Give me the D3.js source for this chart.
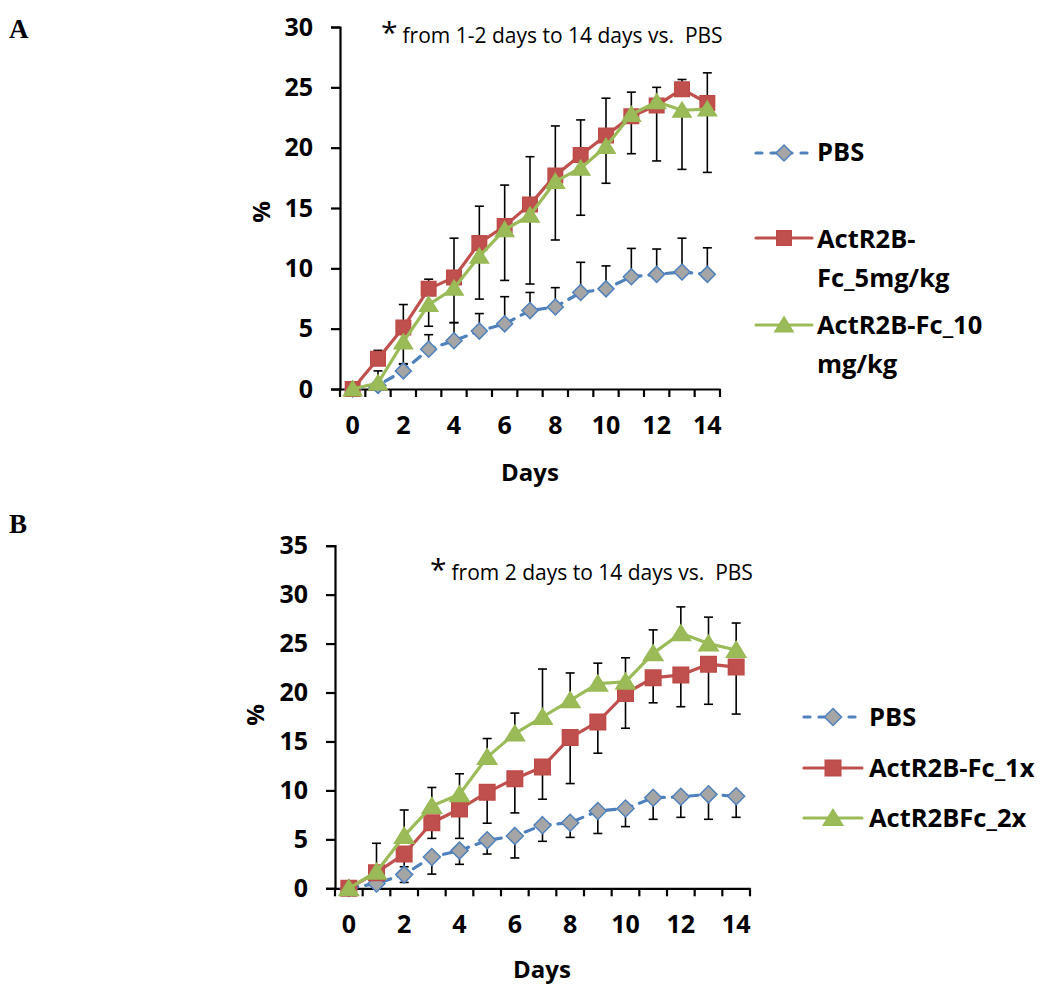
<!DOCTYPE html>
<html>
<head>
<meta charset="utf-8">
<script src="https://cdnjs.cloudflare.com/ajax/libs/d3/7.8.5/d3.min.js"></script>
<style>
  html, body { margin: 0; padding: 0; background: #ffffff; }
  svg { display: block; }
  .tick text { font-family: "Open Sans", sans-serif; font-weight: 700; }
</style>
</head>
<body>
<svg id="chart" width="1052" height="987"></svg>
<script>
// ---------------- DATA ----------------
const days = [0, 1, 2, 3, 4, 5, 6, 7, 8, 9, 10, 11, 12, 13, 14];
const xTickLabels = [0, 2, 4, 6, 8, 10, 12, 14];
const yTicksA = [0, 5, 10, 15, 20, 25, 30];
const yTicksB = [0, 5, 10, 15, 20, 25, 30, 35];

// Panel A
const seriesNamesA = ["PBS", "ActR2B-Fc_5mg/kg", "ActR2B-Fc_10 mg/kg"];
const pbsA      = [0, 0.3, 1.5, 3.3, 4.0, 4.8, 5.4, 6.5, 6.8, 8.0, 8.3, 9.3, 9.5, 9.7, 9.5];
const pbsAErr   = [0, 1.2, 0.6, 1.2, 1.5, 1.45, 2.25, 1.5, 1.6, 2.5, 1.9, 2.35, 2.1, 2.8, 2.2];
const fc5A      = [0, 2.5, 5.1, 8.3, 9.25, 12.1, 13.5, 15.3, 17.7, 19.4, 21.0, 22.6, 23.5, 24.85, 23.7];
const fc5AErr   = [0, 0.7, 1.9, 0.8, 3.25, 3.05, 3.4, 3.95, 4.1, 2.9, 3.1, 2.0, 1.5, 0.8, 2.5];
const fc10A     = [0, 0.5, 3.9, 7.0, 8.35, 11.0, 13.2, 14.4, 17.2, 18.3, 20.1, 22.75, 23.8, 23.1, 23.2];
const fc10AErr  = [0, 0.4, 1.85, 1.8, 2.85, 3.55, 4.2, 5.7, 4.85, 3.9, 3.05, 3.25, 4.9, 4.9, 5.25];
const noteA = "from 1-2 days to 14 days vs.\u00a0 PBS";

// Panel B
const seriesNamesB = ["PBS", "ActR2B-Fc_1x", "ActR2BFc_2x"];
const pbsB      = [0, 0.5, 1.4, 3.2, 3.85, 4.9, 5.35, 6.45, 6.7, 7.9, 8.15, 9.25, 9.35, 9.6, 9.4];
const pbsBErr   = [0, 0.3, 0.8, 1.75, 1.4, 1.4, 2.25, 1.65, 1.5, 2.3, 1.85, 2.2, 2.1, 2.55, 2.15];
const fc1xB     = [0, 1.6, 3.5, 6.7, 8.1, 9.8, 11.2, 12.4, 15.4, 17.0, 19.9, 21.5, 21.8, 22.9, 22.6];
const fc1xBErr  = [0, 0.3, 1.3, 1.6, 3.0, 3.15, 3.5, 3.3, 4.7, 3.2, 3.55, 2.55, 3.25, 4.1, 4.8];
const fc2xB     = [0, 1.7, 5.35, 8.4, 9.6, 13.4, 15.8, 17.5, 19.2, 20.9, 21.1, 24.0, 26.05, 25.0, 24.35];
const fc2xBErr  = [0, 2.9, 2.65, 1.9, 2.1, 1.9, 2.1, 4.9, 2.8, 2.1, 2.45, 2.4, 2.7, 2.7, 2.75];
const noteB = "from 2 days to 14 days vs.\u00a0 PBS";

// ---------------- STYLE ----------------
const BOLD = "'Open Sans', sans-serif";
const styles = [
  { line: "#4F81BD", dash: "9,8", marker: "diamond", fill: "#A5A5A5", stroke: "#4F81BD" },
  { line: "#C0504D", dash: null,  marker: "square",  fill: "#C0504D", stroke: "#BE4B48" },
  { line: "#9BBB59", dash: null,  marker: "triangle",fill: "#9BBB59", stroke: "#98B954" }
];

function markerPath(type, s) {
  if (type === "diamond") {
    const h = s / 2;
    return `M0,${-h}L${h},0L0,${h}L${-h},0Z`;
  }
  if (type === "square") {
    const h = (s - 1.5) / 2;
    return `M${-h},${-h}H${h}V${h}H${-h}Z`;
  }
  const b = s * 0.57, t = s * 0.5;
  return `M0,${-t}L${b},${t * 0.85}L${-b},${t * 0.85}Z`;
}

const svg = d3.select("#chart");

function drawPanel(cfg) {
  const g = svg.append("g");
  const x = d3.scaleBand().domain(days).range([cfg.x0, cfg.x1]).padding(0);
  const y = d3.scaleLinear().domain([0, cfg.yMax]).range([cfg.yBottom, cfg.yTop]);
  const cx = d => x(d) + x.bandwidth() / 2;

  // error bars
  cfg.series.forEach(s => {
    s.values.forEach((v, i) => {
      const e = s.err[i];
      if (!e) return;
      const end = v + s.dir * e;
      const px = cx(days[i]);
      g.append("line").attr("x1", px).attr("x2", px)
        .attr("y1", y(v)).attr("y2", y(end))
        .attr("stroke", "#000").attr("stroke-width", 1.6);
      g.append("line").attr("x1", px - 4.5).attr("x2", px + 4.5)
        .attr("y1", y(end)).attr("y2", y(end))
        .attr("stroke", "#000").attr("stroke-width", 1.6);
    });
  });

  // axes
  const yAxis = d3.axisLeft(y).tickValues(cfg.yTicks).tickSize(9).tickPadding(18);
  const ya = g.append("g").attr("transform", `translate(${cfg.x0},0)`).call(yAxis);
  ya.select(".domain").attr("stroke", "#000").attr("stroke-width", 2.2);
  ya.selectAll(".tick line").attr("stroke", "#000").attr("stroke-width", 2.2);
  ya.selectAll(".tick text").attr("font-size", 25).attr("fill", "#000");

  const xAxis = d3.axisBottom(x).tickValues(xTickLabels).tickSize(0).tickPadding(27);
  const xa = g.append("g").attr("transform", `translate(0,${cfg.yBottom})`).call(xAxis);
  xa.select(".domain").attr("stroke", "#000").attr("stroke-width", 2.2);
  xa.selectAll(".tick text").attr("font-size", 25).attr("fill", "#000");
  const bounds = days.map(d => x(d)).concat([cfg.x1]);
  g.append("g").selectAll("line").data(bounds).join("line")
    .attr("x1", d => d).attr("x2", d => d)
    .attr("y1", cfg.yBottom).attr("y2", cfg.yBottom + 8)
    .attr("stroke", "#000").attr("stroke-width", 2.2);

  // lines and markers
  cfg.series.forEach((s, k) => {
    const st = styles[k];
    const line = d3.line().x((v, i) => cx(days[i])).y(v => y(v));
    const p = g.append("path").datum(s.values).attr("d", line)
      .attr("fill", "none").attr("stroke", st.line).attr("stroke-width", 3.2)
      .attr("stroke-linejoin", "round").attr("stroke-linecap", "round");
    if (st.dash) p.attr("stroke-dasharray", st.dash);
    g.append("g").selectAll("path").data(s.values).join("path")
      .attr("d", markerPath(st.marker, cfg.markerSize))
      .attr("transform", (v, i) => `translate(${cx(days[i])},${y(v)})`)
      .attr("fill", st.fill).attr("stroke", st.stroke).attr("stroke-width", 1.5);
  });

  // axis titles
  g.append("text").attr("x", cfg.daysX).attr("y", cfg.daysY)
    .attr("text-anchor", "middle").attr("font-family", BOLD).attr("font-weight", 700)
    .attr("font-size", 24).text("Days");
  g.append("text").attr("transform", `translate(${cfg.pctX},${cfg.pctY}) rotate(-90)`)
    .attr("text-anchor", "middle").attr("dominant-baseline", "central")
    .attr("font-family", BOLD).attr("font-weight", 700).attr("font-size", 24).text("%");

  // annotation
  const t = g.append("text").attr("x", cfg.noteX).attr("y", cfg.noteY)
    .attr("font-family", "'Open Sans', sans-serif").attr("fill", "#000");
  t.append("tspan").attr("font-size", 30).text("*");
  t.append("tspan").attr("font-size", 21).attr("dx", 5).text(cfg.note);

  // panel letter
  g.append("text").attr("x", cfg.letterX).attr("y", cfg.letterY)
    .attr("font-family", "'Liberation Serif', 'Times New Roman', serif")
    .attr("font-weight", 700).attr("font-size", 27).text(cfg.letter);

  // legend
  cfg.legend.forEach((item, k) => {
    const st = styles[k];
    const lg = g.append("g");
    const l = lg.append("line").attr("x1", cfg.legX).attr("x2", cfg.legX + cfg.legW)
      .attr("y1", item.y).attr("y2", item.y)
      .attr("stroke", st.line).attr("stroke-width", 3.2).attr("stroke-linecap", "round");
    if (st.dash) l.attr("stroke-dasharray", "6,9");
    lg.append("path").attr("d", markerPath(st.marker, cfg.markerSize))
      .attr("transform", `translate(${cfg.legX + cfg.legW / 2},${item.y})`)
      .attr("fill", st.fill).attr("stroke", st.stroke).attr("stroke-width", 1.5);
    item.lines.forEach((txt, j) => {
      lg.append("text").attr("x", cfg.legTextX).attr("y", item.base + j * cfg.legLine)
        .attr("font-family", BOLD).attr("font-weight", 700).attr("font-size", 25.5)
        .text(txt);
    });
  });
}

drawPanel({
  letter: "A", letterX: 9, letterY: 38,
  x0: 340, x1: 720, yTop: 27, yBottom: 389, yMax: 30, yTicks: yTicksA,
  markerSize: 16,
  series: [
    { values: pbsA, err: pbsAErr, dir: 1 },
    { values: fc5A, err: fc5AErr, dir: 1 },
    { values: fc10A, err: fc10AErr, dir: -1 }
  ],
  daysX: 530, daysY: 481, pctX: 260, pctY: 212,
  note: noteA, noteX: 381, noteY: 43,
  legX: 756, legW: 56, legTextX: 817, legLine: 38.5,
  legend: [
    { y: 153, base: 161, lines: [seriesNamesA[0]] },
    { y: 238, base: 248, lines: ["ActR2B-", "Fc_5mg/kg"] },
    { y: 325, base: 334, lines: ["ActR2B-Fc_10", "mg/kg"] }
  ]
});

drawPanel({
  letter: "B", letterX: 9, letterY: 533,
  x0: 335, x1: 750, yTop: 545.7, yBottom: 888.3, yMax: 35, yTicks: yTicksB,
  markerSize: 17,
  series: [
    { values: pbsB, err: pbsBErr, dir: -1 },
    { values: fc1xB, err: fc1xBErr, dir: -1 },
    { values: fc2xB, err: fc2xBErr, dir: 1 }
  ],
  daysX: 542, daysY: 978, pctX: 254, pctY: 715,
  note: noteB, noteX: 430, noteY: 580,
  legX: 804, legW: 58, legTextX: 869, legLine: 38.5,
  legend: [
    { y: 717, base: 726, lines: [seriesNamesB[0]] },
    { y: 768, base: 777, lines: [seriesNamesB[1]] },
    { y: 818, base: 827, lines: [seriesNamesB[2]] }
  ]
});
</script>
</body>
</html>
